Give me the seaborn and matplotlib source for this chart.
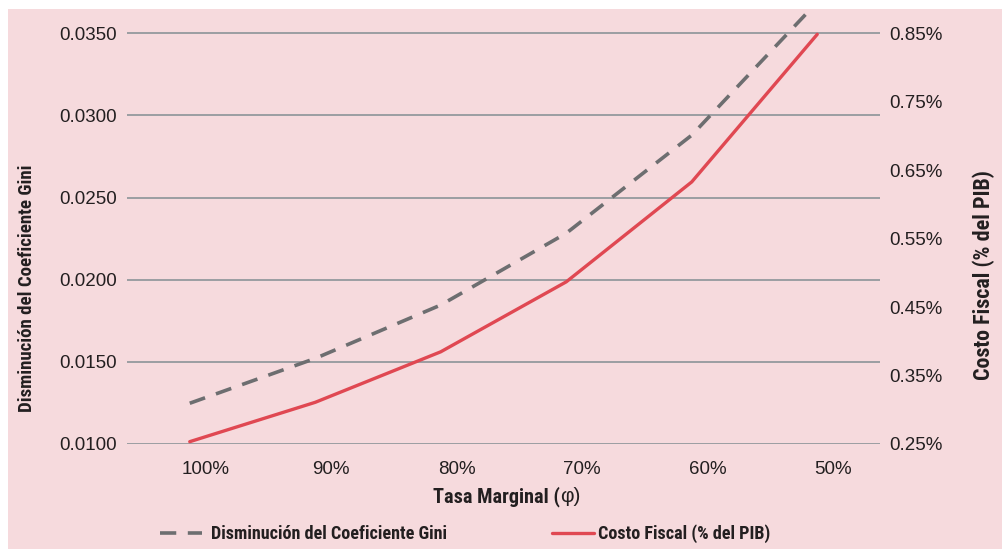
import matplotlib
matplotlib.use("Agg")
import matplotlib.pyplot as plt
import matplotlib.transforms as mtransforms
from matplotlib import font_manager
from matplotlib.lines import Line2D
import pandas as pd
import seaborn as sns

# Data
tasas = ["100%", "90%", "80%", "70%", "60%", "50%"]
gini = [0.01248, 0.01521, 0.01846, 0.02283, 0.02880, 0.03690]
costo = [0.2534, 0.3109, 0.3847, 0.4869, 0.6329, 0.8485]
left_ticks = [0.0100, 0.0150, 0.0200, 0.0250, 0.0300, 0.0350]
right_ticks = [0.25, 0.35, 0.45, 0.55, 0.65, 0.75, 0.85]

BG = "#f6dadd"
TXT = "#231f20"
GRID = "#9b9ea2"
RED = "#e04852"
GRAY = "#6d6e70"

sns.set_theme(style="white")
fm = font_manager.fontManager
available = {f.name for f in fm.ttflist}
regular = "Liberation Sans" if "Liberation Sans" in available else "DejaVu Sans"
plt.rcParams["font.family"] = [regular, "DejaVu Sans"]


def pick_condensed():
    """Pick a narrow bold face for the titles, falling back to a regular one."""
    for name in ["Liberation Sans Narrow", "Arial Narrow", "Roboto Condensed",
                 "Open Sans Condensed", "DejaVu Sans Condensed"]:
        if name in available:
            return name, "normal"
    for f in fm.ttflist:
        if f.stretch in ("condensed", "semi-condensed", "extra-condensed") and \
                str(f.weight) in ("bold", "700"):
            return f.name, f.stretch
    for name in ["Roboto", "Liberation Sans"]:
        if name in available:
            return name, "normal"
    return "DejaVu Sans", "normal"


narrow, stretch = pick_condensed()
bold_kw = dict(family=[narrow, "DejaVu Sans"], fontweight="bold", fontstretch=stretch)

df = pd.DataFrame({"tasa": tasas, "gini": gini, "costo": costo})
df["pos"] = range(len(df))

W, H = 1003, 549
fig = plt.figure(figsize=(W / 100, H / 100), dpi=100)
fig.patch.set_facecolor("white")
fig.add_artist(plt.Rectangle((8 / W, 0), 1, 1 - 9 / H, transform=fig.transFigure,
                             facecolor=BG, edgecolor="none", zorder=-10))
renderer = fig.canvas.get_renderer()


def fit_size(text, target_px, base=14.0, **kw):
    """Font size at which `text` spans target_px pixels."""
    t = fig.text(0, 0, text, fontsize=base, **kw)
    w = t.get_window_extent(renderer=renderer).width
    t.remove()
    return base * target_px / w


ax = fig.add_axes([127 / W, 1 - 444 / H, (880 - 127) / W, (444 - 9) / H])
ax.set_facecolor("none")
ax2 = ax.twinx()
ax2.set_facecolor("none")

dash = (0, (4.5, 3.2))
sns.lineplot(data=df, x="pos", y="gini", ax=ax, color=GRAY, linewidth=2.6,
             linestyle=dash, legend=False)
sns.lineplot(data=df, x="pos", y="costo", ax=ax2, color=RED, linewidth=2.4,
             legend=False)

ax.set_xlim(-0.5, len(tasas) - 0.5)
ymin, ymax = 0.0100, 0.0350
ax.set_ylim(ymin, ymax + (33.3 - 9) / ((444 - 33.3) / (ymax - ymin)))
rmin, rmax = 0.25, 0.85
ax2.set_ylim(rmin, rmax + (33.3 - 9) / ((444 - 33.3) / (rmax - rmin)))

ax.set_yticks(left_ticks)
ax.set_yticklabels([f"{v:.4f}" for v in left_ticks])
ax2.set_yticks(right_ticks)
ax2.set_yticklabels([f"{v:.2f}%" for v in right_ticks])
ax.set_xticks(df["pos"])
ax.set_xticklabels(tasas)

ax.grid(axis="y", color=GRID, linewidth=1.4)
ax.set_axisbelow(True)
for a in (ax, ax2):
    for s in a.spines.values():
        s.set_visible(False)
    a.tick_params(length=0, labelsize=13.5, colors=TXT)
ax.tick_params(axis="y", pad=7)
ax2.tick_params(axis="y", pad=7)
ax.tick_params(axis="x", pad=12)
shift = mtransforms.ScaledTranslation(16 / 100, 0, fig.dpi_scale_trans)
for lbl in ax.get_xticklabels():
    lbl.set_transform(lbl.get_transform() + shift)

ax.set_xlabel("")
ax.set_ylabel("")
ax2.set_ylabel("")

# Axis titles
xl_size = fit_size("Tasa Marginal (", 128, **bold_kw)
fig.text(560 / W, 1 - 497 / H, "Tasa Marginal (", ha="right", va="center",
         fontsize=xl_size, color=TXT, **bold_kw)
fig.text(560 / W, 1 - 497 / H, "φ)", ha="left", va="center",
         fontsize=15, family=[regular, "DejaVu Sans"], color=TXT)

yl_text = "Disminución del Coeficiente Gini"
fig.text(27 / W, 1 - 288 / H, yl_text, rotation=90, ha="center", va="center",
         fontsize=fit_size(yl_text, 248, **bold_kw), color=TXT, **bold_kw)
yr_text = "Costo Fiscal (% del PIB)"
fig.text(984 / W, 1 - 275 / H, yr_text, rotation=90, ha="center", va="center",
         fontsize=fit_size(yr_text, 210, **bold_kw), color=TXT, **bold_kw)

# Legend: two entries placed side by side under the axis title
lg_size = fit_size(yl_text, 238, **bold_kw)
legend_font = font_manager.FontProperties(family=[narrow, "DejaVu Sans"],
                                          weight="bold", stretch=stretch,
                                          size=lg_size)
h1 = Line2D([], [], color=GRAY, linewidth=2.6, linestyle=dash)
h2 = Line2D([], [], color=RED, linewidth=2.4)
hl = 42 / (lg_size * 100 / 72)
leg1 = fig.legend([h1], [yl_text], loc="center left",
                  bbox_to_anchor=(160 / W, 1 - 534 / H), frameon=False,
                  prop=legend_font, handlelength=hl, handletextpad=0.5,
                  borderpad=0, borderaxespad=0)
leg2 = fig.legend([h2], [yr_text], loc="center left",
                  bbox_to_anchor=(552 / W, 1 - 534 / H), frameon=False,
                  prop=legend_font, handlelength=hl, handletextpad=0.2,
                  borderpad=0, borderaxespad=0)
for leg in (leg1, leg2):
    for t in leg.get_texts():
        t.set_color(TXT)

fig.savefig("out.png", dpi=100, facecolor=fig.get_facecolor())
